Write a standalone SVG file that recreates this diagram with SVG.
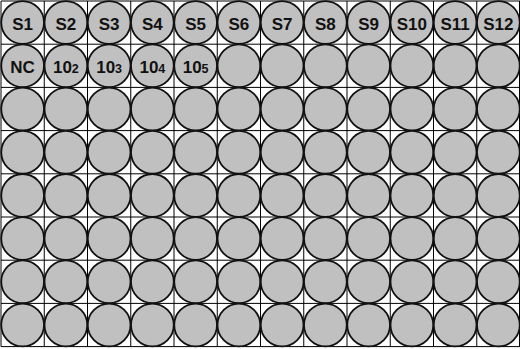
<svg xmlns="http://www.w3.org/2000/svg" width="520" height="349" viewBox="0 0 520 349">
<style>
.grid{stroke:#000;stroke-width:1;fill:none}
.well{fill:#c0c0c0;stroke:#111;stroke-width:1.8}
.lbl{font-family:"Liberation Sans",Arial,sans-serif;font-weight:bold;font-size:17px;fill:#111;text-anchor:middle}
.sub{font-size:12.5px}
</style>
<rect width="520" height="349" fill="#fff"/>
<g id="grid" class="grid">
<path d="M1,1V346.6M44.25,1V346.6M87.5,1V346.6M130.75,1V346.6M174,1V346.6M217.25,1V346.6M260.5,1V346.6M303.75,1V346.6M347,1V346.6M390.25,1V346.6M433.5,1V346.6M476.75,1V346.6M519.5,1V346.6"/>
<path d="M1,1H520M1,44.2H520M1,87.4H520M1,130.6H520M1,173.8H520M1,217H520M1,260.2H520M1,303.4H520M1,346.6H520"/>
</g>
<g id="wells">
<g id="A1"><circle class="well" cx="22.63" cy="22.6" r="21.4"/><text class="lbl" x="22.63" y="30.3">S1</text></g>
<g id="A2"><circle class="well" cx="65.88" cy="22.6" r="21.4"/><text class="lbl" x="65.88" y="30.3">S2</text></g>
<g id="A3"><circle class="well" cx="109.13" cy="22.6" r="21.4"/><text class="lbl" x="109.13" y="30.3">S3</text></g>
<g id="A4"><circle class="well" cx="152.38" cy="22.6" r="21.4"/><text class="lbl" x="152.38" y="30.3">S4</text></g>
<g id="A5"><circle class="well" cx="195.63" cy="22.6" r="21.4"/><text class="lbl" x="195.63" y="30.3">S5</text></g>
<g id="A6"><circle class="well" cx="238.88" cy="22.6" r="21.4"/><text class="lbl" x="238.88" y="30.3">S6</text></g>
<g id="A7"><circle class="well" cx="282.13" cy="22.6" r="21.4"/><text class="lbl" x="282.13" y="30.3">S7</text></g>
<g id="A8"><circle class="well" cx="325.38" cy="22.6" r="21.4"/><text class="lbl" x="325.38" y="30.3">S8</text></g>
<g id="A9"><circle class="well" cx="368.63" cy="22.6" r="21.4"/><text class="lbl" x="368.63" y="30.3">S9</text></g>
<g id="A10"><circle class="well" cx="411.88" cy="22.6" r="21.4"/><text class="lbl" x="411.88" y="30.3">S10</text></g>
<g id="A11"><circle class="well" cx="455.13" cy="22.6" r="21.4"/><text class="lbl" x="455.13" y="30.3">S11</text></g>
<g id="A12"><circle class="well" cx="498.38" cy="22.6" r="21.4"/><text class="lbl" x="498.38" y="30.3">S12</text></g>

<g id="B1"><circle class="well" cx="22.63" cy="65.8" r="21.4"/><text class="lbl" x="22.63" y="73.4">NC</text></g>
<g id="B2"><circle class="well" cx="65.88" cy="65.8" r="21.4"/><text class="lbl" x="65.88" y="73.4">10<tspan class="sub">2</tspan></text></g>
<g id="B3"><circle class="well" cx="109.13" cy="65.8" r="21.4"/><text class="lbl" x="109.13" y="73.4">10<tspan class="sub">3</tspan></text></g>
<g id="B4"><circle class="well" cx="152.38" cy="65.8" r="21.4"/><text class="lbl" x="152.38" y="73.4">10<tspan class="sub">4</tspan></text></g>
<g id="B5"><circle class="well" cx="195.63" cy="65.8" r="21.4"/><text class="lbl" x="195.63" y="73.4">10<tspan class="sub">5</tspan></text></g>
<g id="B6"><circle class="well" cx="238.88" cy="65.8" r="21.4"/></g>
<g id="B7"><circle class="well" cx="282.13" cy="65.8" r="21.4"/></g>
<g id="B8"><circle class="well" cx="325.38" cy="65.8" r="21.4"/></g>
<g id="B9"><circle class="well" cx="368.63" cy="65.8" r="21.4"/></g>
<g id="B10"><circle class="well" cx="411.88" cy="65.8" r="21.4"/></g>
<g id="B11"><circle class="well" cx="455.13" cy="65.8" r="21.4"/></g>
<g id="B12"><circle class="well" cx="498.38" cy="65.8" r="21.4"/></g>

<g id="C1"><circle class="well" cx="22.63" cy="109" r="21.4"/></g>
<g id="C2"><circle class="well" cx="65.88" cy="109" r="21.4"/></g>
<g id="C3"><circle class="well" cx="109.13" cy="109" r="21.4"/></g>
<g id="C4"><circle class="well" cx="152.38" cy="109" r="21.4"/></g>
<g id="C5"><circle class="well" cx="195.63" cy="109" r="21.4"/></g>
<g id="C6"><circle class="well" cx="238.88" cy="109" r="21.4"/></g>
<g id="C7"><circle class="well" cx="282.13" cy="109" r="21.4"/></g>
<g id="C8"><circle class="well" cx="325.38" cy="109" r="21.4"/></g>
<g id="C9"><circle class="well" cx="368.63" cy="109" r="21.4"/></g>
<g id="C10"><circle class="well" cx="411.88" cy="109" r="21.4"/></g>
<g id="C11"><circle class="well" cx="455.13" cy="109" r="21.4"/></g>
<g id="C12"><circle class="well" cx="498.38" cy="109" r="21.4"/></g>

<g id="D1"><circle class="well" cx="22.63" cy="152.2" r="21.4"/></g>
<g id="D2"><circle class="well" cx="65.88" cy="152.2" r="21.4"/></g>
<g id="D3"><circle class="well" cx="109.13" cy="152.2" r="21.4"/></g>
<g id="D4"><circle class="well" cx="152.38" cy="152.2" r="21.4"/></g>
<g id="D5"><circle class="well" cx="195.63" cy="152.2" r="21.4"/></g>
<g id="D6"><circle class="well" cx="238.88" cy="152.2" r="21.4"/></g>
<g id="D7"><circle class="well" cx="282.13" cy="152.2" r="21.4"/></g>
<g id="D8"><circle class="well" cx="325.38" cy="152.2" r="21.4"/></g>
<g id="D9"><circle class="well" cx="368.63" cy="152.2" r="21.4"/></g>
<g id="D10"><circle class="well" cx="411.88" cy="152.2" r="21.4"/></g>
<g id="D11"><circle class="well" cx="455.13" cy="152.2" r="21.4"/></g>
<g id="D12"><circle class="well" cx="498.38" cy="152.2" r="21.4"/></g>

<g id="E1"><circle class="well" cx="22.63" cy="195.4" r="21.4"/></g>
<g id="E2"><circle class="well" cx="65.88" cy="195.4" r="21.4"/></g>
<g id="E3"><circle class="well" cx="109.13" cy="195.4" r="21.4"/></g>
<g id="E4"><circle class="well" cx="152.38" cy="195.4" r="21.4"/></g>
<g id="E5"><circle class="well" cx="195.63" cy="195.4" r="21.4"/></g>
<g id="E6"><circle class="well" cx="238.88" cy="195.4" r="21.4"/></g>
<g id="E7"><circle class="well" cx="282.13" cy="195.4" r="21.4"/></g>
<g id="E8"><circle class="well" cx="325.38" cy="195.4" r="21.4"/></g>
<g id="E9"><circle class="well" cx="368.63" cy="195.4" r="21.4"/></g>
<g id="E10"><circle class="well" cx="411.88" cy="195.4" r="21.4"/></g>
<g id="E11"><circle class="well" cx="455.13" cy="195.4" r="21.4"/></g>
<g id="E12"><circle class="well" cx="498.38" cy="195.4" r="21.4"/></g>

<g id="F1"><circle class="well" cx="22.63" cy="238.6" r="21.4"/></g>
<g id="F2"><circle class="well" cx="65.88" cy="238.6" r="21.4"/></g>
<g id="F3"><circle class="well" cx="109.13" cy="238.6" r="21.4"/></g>
<g id="F4"><circle class="well" cx="152.38" cy="238.6" r="21.4"/></g>
<g id="F5"><circle class="well" cx="195.63" cy="238.6" r="21.4"/></g>
<g id="F6"><circle class="well" cx="238.88" cy="238.6" r="21.4"/></g>
<g id="F7"><circle class="well" cx="282.13" cy="238.6" r="21.4"/></g>
<g id="F8"><circle class="well" cx="325.38" cy="238.6" r="21.4"/></g>
<g id="F9"><circle class="well" cx="368.63" cy="238.6" r="21.4"/></g>
<g id="F10"><circle class="well" cx="411.88" cy="238.6" r="21.4"/></g>
<g id="F11"><circle class="well" cx="455.13" cy="238.6" r="21.4"/></g>
<g id="F12"><circle class="well" cx="498.38" cy="238.6" r="21.4"/></g>

<g id="G1"><circle class="well" cx="22.63" cy="281.8" r="21.4"/></g>
<g id="G2"><circle class="well" cx="65.88" cy="281.8" r="21.4"/></g>
<g id="G3"><circle class="well" cx="109.13" cy="281.8" r="21.4"/></g>
<g id="G4"><circle class="well" cx="152.38" cy="281.8" r="21.4"/></g>
<g id="G5"><circle class="well" cx="195.63" cy="281.8" r="21.4"/></g>
<g id="G6"><circle class="well" cx="238.88" cy="281.8" r="21.4"/></g>
<g id="G7"><circle class="well" cx="282.13" cy="281.8" r="21.4"/></g>
<g id="G8"><circle class="well" cx="325.38" cy="281.8" r="21.4"/></g>
<g id="G9"><circle class="well" cx="368.63" cy="281.8" r="21.4"/></g>
<g id="G10"><circle class="well" cx="411.88" cy="281.8" r="21.4"/></g>
<g id="G11"><circle class="well" cx="455.13" cy="281.8" r="21.4"/></g>
<g id="G12"><circle class="well" cx="498.38" cy="281.8" r="21.4"/></g>

<g id="H1"><circle class="well" cx="22.63" cy="325" r="21.4"/></g>
<g id="H2"><circle class="well" cx="65.88" cy="325" r="21.4"/></g>
<g id="H3"><circle class="well" cx="109.13" cy="325" r="21.4"/></g>
<g id="H4"><circle class="well" cx="152.38" cy="325" r="21.4"/></g>
<g id="H5"><circle class="well" cx="195.63" cy="325" r="21.4"/></g>
<g id="H6"><circle class="well" cx="238.88" cy="325" r="21.4"/></g>
<g id="H7"><circle class="well" cx="282.13" cy="325" r="21.4"/></g>
<g id="H8"><circle class="well" cx="325.38" cy="325" r="21.4"/></g>
<g id="H9"><circle class="well" cx="368.63" cy="325" r="21.4"/></g>
<g id="H10"><circle class="well" cx="411.88" cy="325" r="21.4"/></g>
<g id="H11"><circle class="well" cx="455.13" cy="325" r="21.4"/></g>
<g id="H12"><circle class="well" cx="498.38" cy="325" r="21.4"/></g>
</g>
</svg>
